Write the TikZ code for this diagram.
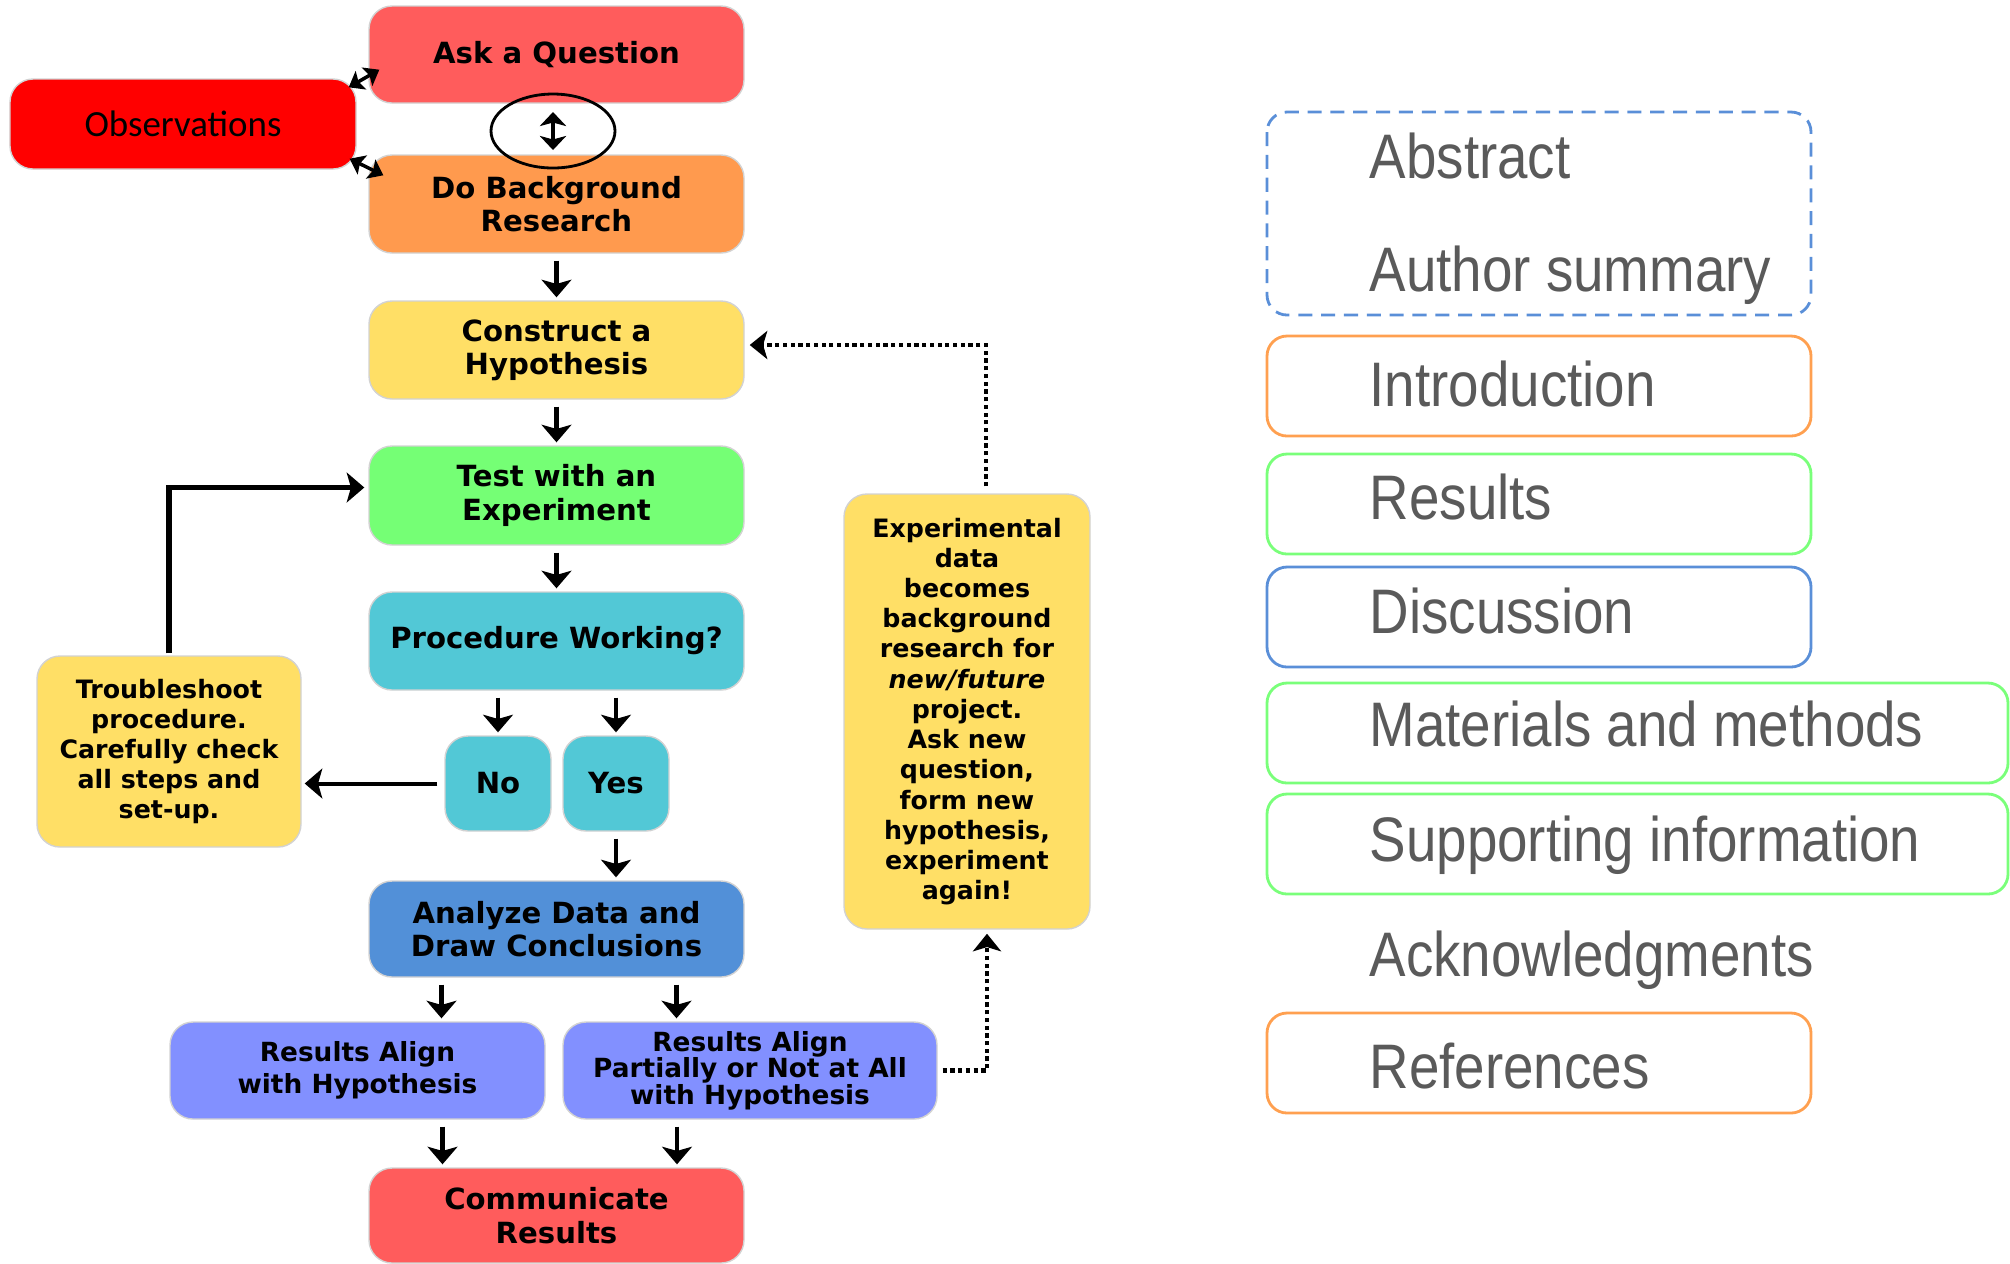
\documentclass[tikz,border=0pt]{standalone}
\usepackage{fontspec}
\setmainfont{DejaVu Sans}
\newfontfamily\flowfont{DejaVu Sans}
\newfontfamily\obsfont{Carlito}
\newfontfamily\secfont[FakeStretch=0.87]{Liberation Sans}
\usetikzlibrary{arrows.meta,shapes.geometric}
\definecolor{askred}{HTML}{FF5C5C}
\definecolor{obsred}{HTML}{FF0000}
\definecolor{bgorange}{HTML}{FF9A4E}
\definecolor{hypyellow}{HTML}{FFDF66}
\definecolor{testgreen}{HTML}{75FF75}
\definecolor{proccyan}{HTML}{52C8D6}
\definecolor{anablue}{HTML}{5290D8}
\definecolor{reslilac}{HTML}{8290FF}
\definecolor{secgray}{HTML}{5A5A5A}
\definecolor{secorange}{HTML}{FFA050}
\definecolor{secgreen}{HTML}{7AFF7A}
\definecolor{secblue}{HTML}{5A8FD8}
\begin{document}
\begin{tikzpicture}[
  fbox/.style={rounded corners=0.23cm, draw=gray!35, align=center, inner sep=1pt,
    minimum width=3.75cm, minimum height=0.97cm,
    font=\flowfont\bfseries\fontsize{8.3}{9.5}\selectfont},
  small/.style={font=\flowfont\bfseries\fontsize{7.2}{8.6}\selectfont},
  arr/.style={-{Stealth[length=5pt,width=8.5pt,inset=1.2pt]}, line width=1.15pt},
  dbl/.style={{Stealth[length=4pt,width=6pt,inset=0.8pt]}-{Stealth[length=4pt,width=6pt,inset=0.8pt]}, line width=1pt},
  gap/.style={shorten <=0.07cm, shorten >=0.03cm},
  dots/.style={-{Stealth[length=5pt,width=8pt,inset=1.2pt]}, line width=1.2pt, dash pattern=on 1.2pt off 1pt},
  sbox/.style={rounded corners=0.2cm, line width=0.8pt},
  sec/.style={anchor=base west, inner sep=0, text=secgray, font=\secfont\fontsize{17.9}{20}\selectfont}]
\useasboundingbox (0,0) rectangle (20.10,-12.63);

% flow chart
\node (Ask) at (5.565,-0.545) [fbox, fill=askred]{Ask a Question};
\node (Obs) at (1.83,-1.24) [fbox, fill=obsred, minimum width=3.46cm, minimum height=0.90cm,
  font=\obsfont\fontsize{10.5}{12}\selectfont]{Observations};
\node (Bg) at (5.565,-2.04) [fbox, fill=bgorange, minimum height=0.98cm]{Do Background\\Research};
\node (Hyp) at (5.565,-3.50) [fbox, fill=hypyellow, minimum height=0.98cm]{Construct a\\Hypothesis};
\node (Test) at (5.565,-4.955) [fbox, fill=testgreen, minimum height=0.99cm]{Test with an\\Experiment};
\node (Proc) at (5.565,-6.41) [fbox, fill=proccyan, minimum height=0.98cm]{Procedure Working?};
\node (No) at (4.98,-7.835) [fbox, fill=proccyan, minimum width=1.06cm, minimum height=0.95cm]{No};
\node (Yes) at (6.16,-7.835) [fbox, fill=proccyan, minimum width=1.06cm, minimum height=0.95cm]{Yes};
\node (Trb) at (1.69,-7.515) [fbox, small, fill=hypyellow, minimum width=2.64cm, minimum height=1.91cm]
  {Troubleshoot\\procedure.\\Carefully check\\all steps and\\set-up.};
\node (Ana) at (5.565,-9.29) [fbox, fill=anablue, minimum height=0.96cm]{Analyze Data and\\Draw Conclusions};
\node (Al) at (3.575,-10.705) [fbox, fill=reslilac,
  font=\flowfont\bfseries\fontsize{7.5}{9.1}\selectfont]{Results Align\\with Hypothesis};
\node (Part) at (7.50,-10.705) [fbox, fill=reslilac, minimum width=3.74cm,
  font=\flowfont\bfseries\fontsize{7.5}{7.5}\selectfont]{Results Align\\Partially or Not at All\\with Hypothesis};
\node (Com) at (5.565,-12.155) [fbox, fill=askred, minimum height=0.95cm]{Communicate\\Results};
\node (Exp) at (9.67,-7.115) [fbox, small, fill=hypyellow, minimum width=2.46cm, minimum height=4.35cm]
  {Experimental\\data\\becomes\\background\\research for\\\textit{new/future}\\project.\\Ask new\\question,\\form new\\hypothesis,\\experiment\\again!};
\node (Circ) at (5.53,-1.31) [draw, ellipse, line width=0.8pt, minimum width=1.24cm, minimum height=0.74cm]{};

\draw[arr, line width=1.3pt, {Stealth[length=4pt,width=7.5pt,inset=1pt]}-{Stealth[length=4pt,width=7.5pt,inset=1pt]}]
  ([yshift=0.19cm]Circ.center) -- ([yshift=-0.19cm]Circ.center);
\draw[dbl] ([shift={(-0.08,-0.09)}]Obs.north east) -- ([shift={(0.11,0.34)}]Ask.south west);
\draw[dbl] ([shift={(-0.07,0.11)}]Obs.south east) -- ([shift={(0.15,-0.21)}]Bg.north west);
\draw[arr,gap] (Bg.south) -- (Hyp.north);
\draw[arr,gap] (Hyp.south) -- (Test.north);
\draw[arr,gap] (Test.south) -- (Proc.north);
\draw[arr,gap] (No.north |- Proc.south) -- (No.north);
\draw[arr,gap] (Yes.north |- Proc.south) -- (Yes.north);
\draw[arr,gap] (No.west) -- (No.west -| Trb.east);
\draw[arr, line width=1.45pt, shorten <=0.02cm, shorten >=0.04cm] (Trb.north) |- ([yshift=0.08cm]Test.west);
\draw[arr,gap] (Yes.south) -- (Yes.south |- Ana.north);
\draw[arr,gap] ([xshift=-1.15cm]Ana.south) -- ([xshift=-1.15cm]Ana.south |- Al.north);
\draw[arr,gap] ([xshift=1.2cm]Ana.south) -- ([xshift=1.2cm]Ana.south |- Part.north);
\draw[arr,gap] ([xshift=0.85cm]Al.south) -- ([xshift=0.85cm]Al.south |- Com.north);
\draw[arr,gap] ([xshift=-0.73cm]Part.south) -- ([xshift=-0.73cm]Part.south |- Com.north);
\draw[dots, shorten <=0.05cm, shorten >=0.04cm] (Part.east) -| ([xshift=0.2cm]Exp.south);
\draw[dots, shorten <=0.07cm, shorten >=0.05cm] ([xshift=0.19cm]Exp.north) |- ([yshift=0.05cm]Hyp.east);

% sections
\draw[sbox, secblue, dash pattern=on 4pt off 2.5pt] (12.67,-1.12) rectangle (18.11,-3.15);
\draw[sbox, secorange] (12.67,-3.36) rectangle (18.11,-4.36);
\draw[sbox, secgreen] (12.67,-4.54) rectangle (18.11,-5.54);
\draw[sbox, secblue] (12.67,-5.67) rectangle (18.11,-6.67);
\draw[sbox, secgreen] (12.67,-6.83) rectangle (20.08,-7.83);
\draw[sbox, secgreen] (12.67,-7.94) rectangle (20.08,-8.94);
\draw[sbox, secorange] (12.67,-10.13) rectangle (18.11,-11.13);

\node[sec] (Abs) at (13.69,-1.78) {Abstract};
\node[sec] (Aut) at (13.69,-2.91) {Author summary};
\node[sec] (Intro) at (13.69,-4.06) {Introduction};
\node[sec] (Res) at (13.69,-5.19) {Results};
\node[sec] (Disc) at (13.69,-6.33) {Discussion};
\node[sec] (Mat) at (13.69,-7.46) {Materials and methods};
\node[sec] (Sup) at (13.69,-8.61) {Supporting information};
\node[sec] (Ack) at (13.69,-9.76) {Acknowledgments};
\node[sec] (Ref) at (13.69,-10.88) {References};
\end{tikzpicture}
\end{document}
